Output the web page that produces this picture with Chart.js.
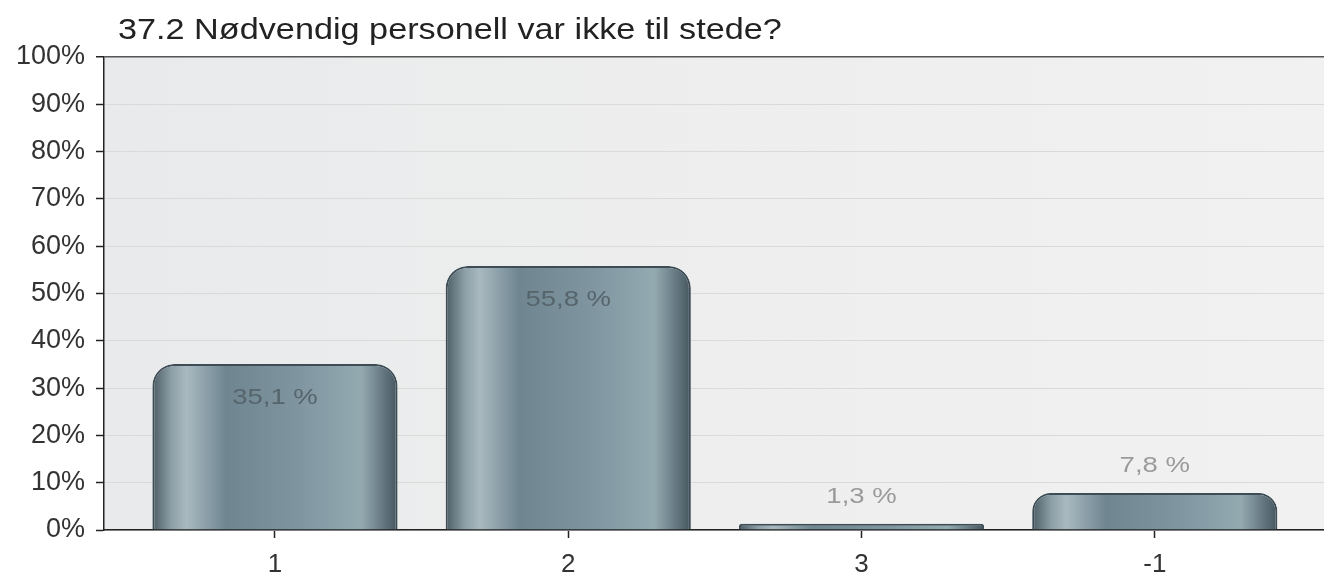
<!DOCTYPE html>
<html>
<head>
<meta charset="utf-8">
<script src="https://cdn.jsdelivr.net/npm/chart.js@4/dist/chart.umd.min.js"></script>
<style>
  html, body { margin: 0; padding: 0; background: #fff; }
  #wrap { width: 1324px; height: 578px; }
</style>
</head>
<body>
<div id="wrap"><canvas id="chart"></canvas></div>
<script>
const title = '37.2 Nødvendig personell var ikke til stede?'
const categories = ['1', '2', '3', '-1']
const percents = [35.1, 55.8, 1.3, 7.8]
const yTicks = [0, 10, 20, 30, 40, 50, 60, 70, 80, 90, 100]

const fmt = v => v.toFixed(1).replace('.', ',') + ' %'
const FONT = '"Liberation Sans", Arial, sans-serif'

// grey plot background
const plotBg = {
  id: 'plotBg',
  beforeDraw: chart => {
    const { ctx, chartArea: a } = chart
    const g = ctx.createLinearGradient(a.left, 0, a.right, 0)
    g.addColorStop(0, '#e8eaeb')
    g.addColorStop(0.5, '#eeeeee')
    g.addColorStop(1, '#f1f1f1')
    ctx.save()
    ctx.fillStyle = g
    ctx.fillRect(a.left, a.top, a.right - a.left, a.bottom - a.top)
    ctx.restore()
  }
}

// text stretched a bit wider, like the original picture
const wideText = (ctx, text, x, y, sx) => {
  ctx.save()
  ctx.translate(x, y)
  ctx.scale(sx, 1)
  ctx.fillText(text, 0, 0)
  ctx.restore()
}

// title and value labels
const labels = {
  id: 'labels',
  afterDraw: chart => {
    const ctx = chart.ctx
    ctx.save()
    ctx.font = '29px ' + FONT
    ctx.fillStyle = '#222'
    ctx.textAlign = 'left'
    ctx.textBaseline = 'alphabetic'
    wideText(ctx, title, chart.chartArea.left + 14, 39, 1.18)

    ctx.font = '22px ' + FONT
    ctx.textAlign = 'center'
    ctx.textBaseline = 'middle'
    chart.getDatasetMeta(0).data.forEach((bar, i) => {
      const v = percents[i]
      if (v > 20) {
        ctx.fillStyle = '#56656c'
        wideText(ctx, fmt(v), bar.x, bar.y + 34, 1.25)
      } else {
        ctx.fillStyle = '#9a9a9a'
        wideText(ctx, fmt(v), bar.x, bar.y - 27, 1.25)
      }
    })
    ctx.restore()
  }
}

const barFill = c => {
  const chart = c.chart
  if (!chart.chartArea || !chart.scales.x) return '#6e8590'
  const x = chart.scales.x.getPixelForValue(c.dataIndex)
  const half = 123
  const g = chart.ctx.createLinearGradient(x - half, 0, x + half, 0)
  g.addColorStop(0, '#4a5b64')
  g.addColorStop(0.08, '#8d9fa7')
  g.addColorStop(0.14, '#a9b9c0')
  g.addColorStop(0.3, '#6f8691')
  g.addColorStop(0.6, '#7f95a0')
  g.addColorStop(0.85, '#94aab1')
  g.addColorStop(0.95, '#5f727b')
  g.addColorStop(1, '#44545c')
  return g
}

new Chart(document.getElementById('chart'), {
  type: 'bar',
  data: {
    datasets: [{
      data: percents.map((v, i) => ({ x: i, y: v })),
      backgroundColor: barFill,
      borderColor: '#3e4d55',
      borderWidth: 2,
      borderSkipped: 'bottom',
      borderRadius: { topLeft: 22, topRight: 22, bottomLeft: 0, bottomRight: 0 },
      barPercentage: 0.836,
      categoryPercentage: 1
    }]
  },
  options: {
    responsive: true,
    maintainAspectRatio: false,
    animation: false,
    layout: { padding: { top: 57, right: 0, left: 0, bottom: 0 } },
    plugins: { legend: { display: false }, tooltip: { enabled: false } },
    scales: {
      x: {
        type: 'linear',
        offset: false,
        min: -0.583,
        max: 3.577,
        afterBuildTicks: s => { s.ticks = categories.map((c, i) => ({ value: i })) },
        afterFit: s => { s.height = 48 },
        grid: { offset: false, drawOnChartArea: false, tickLength: 8, tickColor: '#222', tickWidth: 1.5 },
        border: { color: '#222', width: 1.5 },
        ticks: {
          padding: 11,
          color: '#333',
          font: { size: 26, family: FONT },
          callback: v => categories[v]
        }
      },
      y: {
        min: 0,
        max: 100,
        afterBuildTicks: s => { s.ticks = yTicks.map(v => ({ value: v })) },
        afterFit: s => { s.width = 104 },
        grid: {
          color: c => c.tick && c.tick.value === 100 ? '#555' : '#dadada',
          lineWidth: c => c.tick && c.tick.value === 100 ? 1.5 : 1,
          tickLength: 8,
          tickColor: '#222',
          tickWidth: 1.5
        },
        border: { color: '#222', width: 1.5 },
        ticks: {
          padding: 11,
          color: '#333',
          font: { size: 27, family: FONT },
          callback: v => v + '%'
        }
      }
    }
  },
  plugins: [plotBg, labels]
})
</script>
</body>
</html>
